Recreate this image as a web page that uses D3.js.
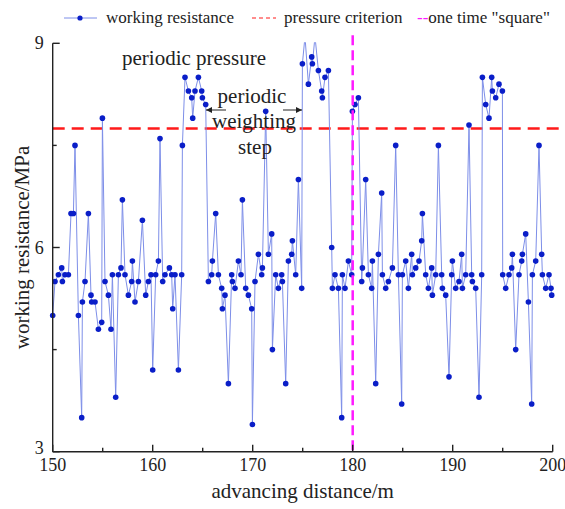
<!DOCTYPE html>
<html>
<head>
<meta charset="utf-8">
<script src="https://cdn.jsdelivr.net/npm/d3@7"></script>
<style>
    body { margin: 0; background: #fff; }
    text { font-family: "Liberation Serif", "DejaVu Serif", serif; fill: #222; }
</style>
</head>
<body>
<svg id="chart"></svg>
<script>
window.addEventListener("load", main);

const WIDTH = 565;
const HEIGHT = 509;

// plot box (pixels)
const LEFT = 52.7, RIGHT = 552.7, TOP = 43.3, BOTTOM = 451.7;

const distance = [
    150.00, 150.23, 150.57, 150.90, 150.97, 151.23, 151.57, 151.83, 152.07, 152.23,
    152.57, 152.90, 152.97, 153.23, 153.57, 153.83, 153.90, 154.23, 154.57, 154.90,
    154.97, 155.23, 155.57, 155.83, 155.97, 156.30, 156.57, 156.83, 156.97, 157.23,
    157.57, 157.90, 157.97, 158.23, 158.57, 158.97, 159.30, 159.57, 159.83, 160.00,
    160.30, 160.57, 160.73, 161.00, 161.23, 161.67, 161.90, 162.00, 162.23, 162.57,
    162.90, 162.97, 163.23, 163.57, 163.90, 164.00, 164.23, 164.57, 164.90, 164.97,
    165.30, 165.57, 165.90, 165.97, 166.30, 166.57, 166.90, 166.97, 167.23, 167.57,
    167.90, 167.97, 168.23, 168.57, 168.83, 168.97, 169.30, 169.57, 169.90, 169.97,
    170.23, 170.57, 170.90, 170.97, 171.30, 171.57, 171.90, 171.97, 172.30, 172.57,
    172.90, 172.97, 173.30, 173.57, 173.90, 173.97, 174.30, 174.57, 174.90, 174.97,
    175.23, 175.57, 175.90, 175.97, 176.23, 176.57, 176.90, 176.97, 177.23, 177.57,
    177.90, 177.97, 178.23, 178.57, 178.90, 178.97, 179.23, 179.57, 179.90, 179.97,
    180.23, 180.57, 180.90, 180.97, 181.30, 181.57, 181.90, 181.97, 182.30, 182.57,
    182.90, 182.97, 183.30, 183.57, 183.97, 184.30, 184.57, 184.90, 184.97, 185.30,
    185.57, 185.90, 185.97, 186.30, 186.63, 186.90, 186.97, 187.30, 187.57, 187.90,
    187.97, 188.30, 188.57, 188.90, 188.97, 189.30, 189.63, 189.90, 189.97, 190.30,
    190.63, 190.90, 190.97, 191.30, 191.63, 191.90, 191.97, 192.30, 192.63, 192.90,
    192.97, 193.30, 193.63, 193.90, 193.97, 194.30, 194.63, 194.97, 195.00, 195.30,
    195.63, 195.90, 195.97, 196.30, 196.63, 196.90, 196.97, 197.30, 197.57, 197.90,
    197.97, 198.30, 198.63, 198.90, 198.97, 199.30, 199.63, 199.83, 199.90
];

const resistance = [
    5.0, 5.5, 5.6, 5.7, 5.5, 5.6, 5.6, 6.5, 6.5, 7.5,
    5.0, 3.5, 5.2, 5.5, 6.5, 5.3, 5.2, 5.2, 4.8, 4.9,
    7.9, 5.5, 5.3, 4.8, 5.6, 3.8, 5.6, 5.7, 6.7, 5.6,
    5.3, 5.5, 5.8, 5.2, 5.5, 6.4, 5.3, 5.5, 5.6, 4.2,
    5.6, 5.8, 7.6, 5.5, 5.6, 5.7, 5.6, 5.1, 5.6, 4.2,
    5.6, 7.5, 8.5, 8.3, 8.2, 7.9, 8.3, 8.5, 8.3, 8.2,
    8.1, 5.5, 5.6, 5.8, 6.5, 5.6, 5.4, 5.1, 5.3, 4.0,
    5.6, 5.5, 5.4, 5.8, 5.6, 6.7, 5.4, 5.3, 5.1, 3.4,
    5.5, 5.9, 5.6, 5.7, 8.0, 5.9, 6.2, 4.5, 5.6, 5.4,
    5.6, 5.5, 4.0, 5.8, 5.9, 6.1, 5.6, 7.0, 5.4, 8.7,
    9.1, 8.4, 8.8, 8.7, 9.1, 8.6, 8.3, 8.2, 8.5, 8.6,
    6.0, 5.4, 5.6, 5.4, 3.5, 5.6, 5.4, 5.8, 5.6, 8.0,
    8.1, 8.2, 5.5, 5.7, 7.0, 5.6, 5.4, 5.8, 4.0, 5.9,
    6.8, 5.6, 5.4, 5.5, 5.7, 7.5, 5.6, 3.7, 5.6, 5.8,
    5.4, 5.9, 5.6, 5.7, 5.8, 6.1, 6.5, 5.6, 5.4, 5.7,
    5.3, 5.6, 7.5, 5.6, 5.4, 5.3, 4.1, 5.6, 5.8, 5.4,
    5.5, 5.9, 5.4, 5.6, 7.8, 5.6, 5.5, 5.4, 3.8, 5.6,
    8.5, 8.1, 7.9, 8.5, 8.3, 8.2, 8.4, 8.3, 5.6, 5.4,
    5.6, 5.7, 5.9, 4.5, 5.6, 5.8, 5.9, 6.2, 5.2, 3.7,
    5.6, 5.8, 7.5, 5.9, 5.6, 5.4, 5.6, 5.4, 5.3
];

const xMajor = [150, 160, 170, 180, 190, 200];
const xMinor = [155, 165, 175, 185, 195];
const yMajor = [3, 6, 9];
const yMinor = [4.5, 7.5];

const criterion = 7.75;   // pressure criterion, MPa
const squareAt = 180;     // one time "square", m

const legendLabels = ["working resistance", "pressure criterion", "--one time \"square\""];

const BLUE = "#0a1ec8", BLUE_LINE = "#7d8ee8", RED = "#ff1a1a", MAGENTA = "#ff1aff";

function drawAxes(svg, x, y){
    var ax = svg.append("g").attr("stroke", "#222").attr("stroke-width", 1.4);
    ax.append("line").attr("x1", x(150)).attr("x2", x(200)).attr("y1", y(3)).attr("y2", y(3));
    ax.append("line").attr("x1", x(150)).attr("x2", x(150)).attr("y1", y(3)).attr("y2", y(9));

    // ticks point inward
    ax.selectAll(".xt").data(xMajor.concat(xMinor)).enter().append("line")
        .attr("x1", d=>x(d)).attr("x2", d=>x(d))
        .attr("y1", y(3)).attr("y2", d=>y(3) - (xMajor.includes(d) ? 7 : 4));
    ax.selectAll(".yt").data(yMajor.concat(yMinor)).enter().append("line")
        .attr("y1", d=>y(d)).attr("y2", d=>y(d))
        .attr("x1", x(150)).attr("x2", d=>x(150) + (yMajor.includes(d) ? 7 : 4));

    svg.selectAll(".xl").data(xMajor).enter().append("text")
        .attr("x", d=>x(d)).attr("y", y(3) + 19)
        .attr("text-anchor", "middle").attr("font-size", 18)
        .text(d=>d);
    svg.selectAll(".yl").data(yMajor).enter().append("text")
        .attr("x", x(150) - 9).attr("y", d=>y(d) + (d == 3 ? 2 : 6))
        .attr("text-anchor", "end").attr("font-size", 18)
        .text(d=>d);

    svg.append("text")
        .attr("x", (x(150) + x(200)) / 2).attr("y", 498)
        .attr("text-anchor", "middle").attr("font-size", 21)
        .text("advancing distance/m");
    svg.append("text")
        .attr("transform", "translate(29," + (y(6)) + ") rotate(-90)")
        .attr("text-anchor", "middle").attr("font-size", 21)
        .text("working resistance/MPa");
}

function drawLegend(svg){
    var g = svg.append("g").attr("font-size", 17);
    var ly = 18;
    g.append("line").attr("x1", 64).attr("x2", 97).attr("y1", ly).attr("y2", ly)
        .attr("stroke", BLUE_LINE).attr("stroke-width", 1);
    g.append("circle").attr("cx", 80).attr("cy", ly).attr("r", 2.6).attr("fill", BLUE);
    g.append("text").attr("x", 106).attr("y", ly + 5).text(legendLabels[0]);

    g.append("line").attr("x1", 252).attr("x2", 276).attr("y1", ly).attr("y2", ly)
        .attr("stroke", RED).attr("stroke-width", 1).attr("stroke-dasharray", "4,3");
    g.append("text").attr("x", 284).attr("y", ly + 5).text(legendLabels[1]);

    var t = g.append("text").attr("x", 417).attr("y", ly + 5);
    t.append("tspan").attr("fill", MAGENTA).text("--");
    t.append("tspan").text(legendLabels[2].slice(2));
}

function drawAnnotations(svg){
    var g = svg.append("g").attr("font-size", 21).attr("text-anchor", "middle");
    g.append("text").attr("x", 194).attr("y", 65).text("periodic pressure");
    g.append("text").attr("x", 252).attr("y", 103).text("periodic");
    g.append("text").attr("x", 254).attr("y", 128).text("weighting");
    g.append("text").attr("x", 255).attr("y", 154).text("step");

    var defs = svg.append("defs");
    defs.append("marker").attr("id", "arrow")
        .attr("viewBox", "0 0 10 10").attr("refX", 10).attr("refY", 5)
        .attr("markerWidth", 9).attr("markerHeight", 6).attr("orient", "auto")
        .attr("markerUnits", "userSpaceOnUse")
        .append("path").attr("d", "M0,0L10,5L0,10z").attr("fill", "#222");
    g.append("line").attr("x1", 226).attr("x2", 206).attr("y1", 110).attr("y2", 110)
        .attr("stroke", "#222").attr("stroke-width", 1).attr("marker-end", "url(#arrow)");
    g.append("line").attr("x1", 283).attr("x2", 302).attr("y1", 110).attr("y2", 110)
        .attr("stroke", "#222").attr("stroke-width", 1).attr("marker-end", "url(#arrow)");
}

function main(){
    var svg = d3.select("#chart")
        .attr("width", WIDTH)
        .attr("height", HEIGHT);

    var x = d3.scaleLinear().domain([150, 200]).range([LEFT, RIGHT]);
    var y = d3.scaleLinear().domain([3, 9]).range([BOTTOM, TOP]);

    var data = distance.map((d, i)=>({x: d, y: resistance[i]}));

    svg.append("clipPath").attr("id", "plot")
        .append("rect").attr("x", 0).attr("y", y(9) - 1)
        .attr("width", WIDTH).attr("height", BOTTOM - TOP + 10);

    // pressure criterion
    svg.append("line")
        .attr("x1", x(150)).attr("x2", x(201))
        .attr("y1", y(criterion)).attr("y2", y(criterion))
        .attr("stroke", RED).attr("stroke-width", 2.5).attr("stroke-dasharray", "12,7");

    var series = svg.append("g").attr("clip-path", "url(#plot)");
    series.append("path")
        .datum(data)
        .attr("d", d3.line().x(d=>x(d.x)).y(d=>y(d.y)))
        .attr("fill", "none").attr("stroke", BLUE_LINE).attr("stroke-width", 1);
    series.selectAll("circle")
        .data(data.filter(d=>d.y <= 9))
        .enter().append("circle")
        .attr("cx", d=>x(d.x)).attr("cy", d=>y(d.y))
        .attr("r", 2.8).attr("fill", BLUE);

    // one time "square"
    svg.append("line")
        .attr("x1", x(squareAt)).attr("x2", x(squareAt))
        .attr("y1", y(9.12)).attr("y2", y(3))
        .attr("stroke", MAGENTA).attr("stroke-width", 2.5).attr("stroke-dasharray", "10,5");

    drawAxes(svg, x, y);
    drawAnnotations(svg);
    drawLegend(svg);
}
</script>
</body>
</html>
